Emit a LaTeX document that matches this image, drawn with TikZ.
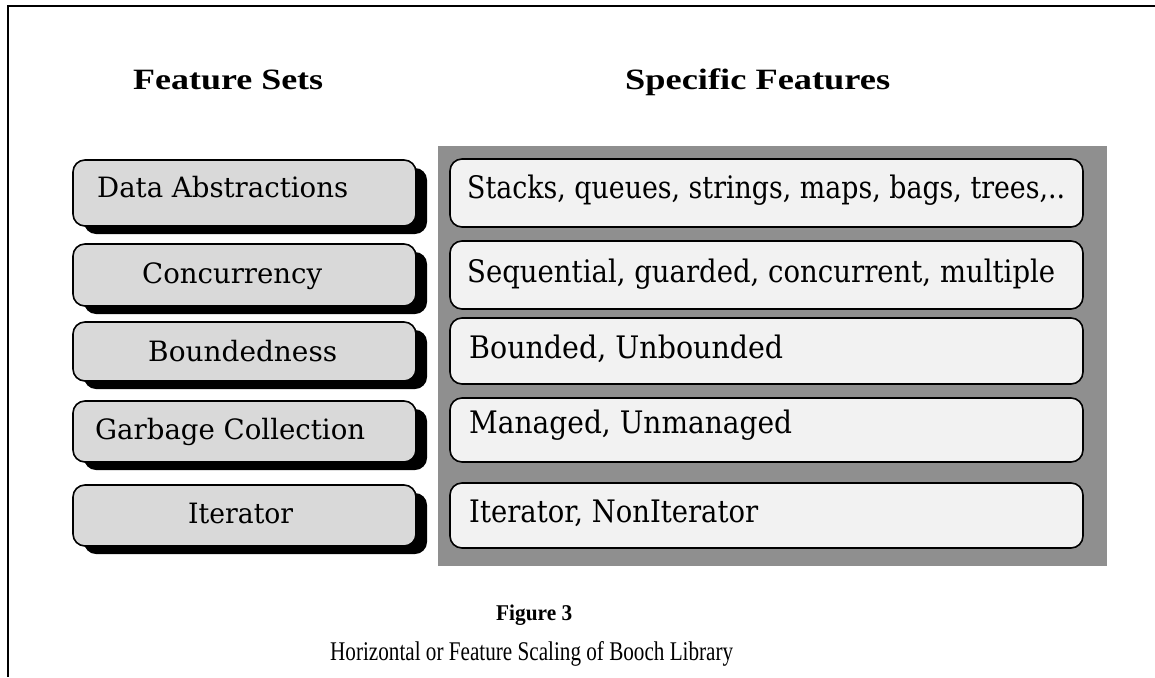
\documentclass[tikz,border=0pt]{standalone}
\usepackage{graphicx}
\usepackage{fontspec}
\setmainfont{Liberation Serif}
\newfontfamily\boxfont{DejaVu Serif}
\usetikzlibrary{shadows}
\definecolor{panelgray}{HTML}{8F8F8F}
\definecolor{setgray}{HTML}{D9D9D9}
\definecolor{featgray}{HTML}{F2F2F2}
\newcommand\fitw[2]{\resizebox{#1}{\height}{#2}}
\begin{document}
\begin{tikzpicture}[x=1pt,y=-1pt,
  setbox/.style={draw=black, line width=1.6pt, rounded corners=12pt, fill=setgray,
    minimum width=343pt, inner sep=0pt,
    drop shadow={shadow xshift=11pt, shadow yshift=-8pt, fill=black, opacity=1}},
  featbox/.style={draw=black, line width=1.6pt, rounded corners=12pt, fill=featgray,
    minimum width=633pt, inner sep=0pt},
  lbl/.style={anchor=base west, inner sep=0pt},
  lfont/.style={font=\boxfont\fontsize{28}{30}\selectfont},
  rfont/.style={font=\boxfont\fontsize{31}{33}\selectfont},
  hfont/.style={font=\fontsize{29.5}{31}\selectfont\bfseries}
]
\useasboundingbox (0,0) rectangle (1155,677);
% frame
\draw[line width=2pt] (1155,6) -- (8,6) -- (8,677);
% headers
\node[lbl,hfont] (h1) at (133,89) {\fitw{190pt}{Feature Sets}};
\node[lbl,hfont] (h2) at (625,89) {\fitw{265pt}{Specific Features}};
% panel
\fill[panelgray] (438,146) rectangle (1107,566);
% left boxes
\node[setbox, minimum height=66pt] (s1) at (244.5,193) {};
\node[setbox, minimum height=62pt] (s2) at (244.5,275) {};
\node[setbox, minimum height=59pt] (s3) at (244.5,351.5) {};
\node[setbox, minimum height=61pt] (s4) at (244.5,431.5) {};
\node[setbox, minimum height=61pt] (s5) at (244.5,515.5) {};
\node[lbl,lfont] (t1) at (97,197) {\fitw{251pt}{Data Abstractions}};
\node[lbl,lfont] (t2) at (142,283) {\fitw{180pt}{Concurrency}};
\node[lbl,lfont] (t3) at (148,361) {\fitw{189pt}{Boundedness}};
\node[lbl,lfont] (t4) at (95,439) {\fitw{270pt}{Garbage Collection}};
\node[lbl,lfont] (t5) at (188,523) {\fitw{105pt}{Iterator}};
% right boxes
\node[featbox, minimum height=68pt] (f1) at (766.5,193) {};
\node[featbox, minimum height=68pt] (f2) at (766.5,275) {};
\node[featbox, minimum height=66pt] (f3) at (766.5,351) {};
\node[featbox, minimum height=64pt] (f4) at (766.5,430) {};
\node[featbox, minimum height=65pt] (f5) at (766.5,515.5) {};
\node[lbl,rfont] (u1) at (467,198) {\fitw{598pt}{Stacks, queues, strings, maps, bags, trees,..}};
\node[lbl,rfont] (u2) at (467,282) {\fitw{588pt}{Sequential, guarded, concurrent, multiple}};
\node[lbl,rfont] (u3) at (469,358) {\fitw{314pt}{Bounded, Unbounded}};
\node[lbl,rfont] (u4) at (469,433) {\fitw{323pt}{Managed, Unmanaged}};
\node[lbl,rfont] (u5) at (469,522) {\fitw{289pt}{Iterator, NonIterator}};
% caption
\node[lbl,font=\fontsize{22.5}{24}\selectfont\bfseries] (c1) at (496,620) {\fitw{76pt}{Figure 3}};
\node[lbl,font=\fontsize{27}{29}\selectfont] (c2) at (330,660) {\fitw{403pt}{Horizontal or Feature Scaling of Booch Library}};
\end{tikzpicture}
\end{document}
